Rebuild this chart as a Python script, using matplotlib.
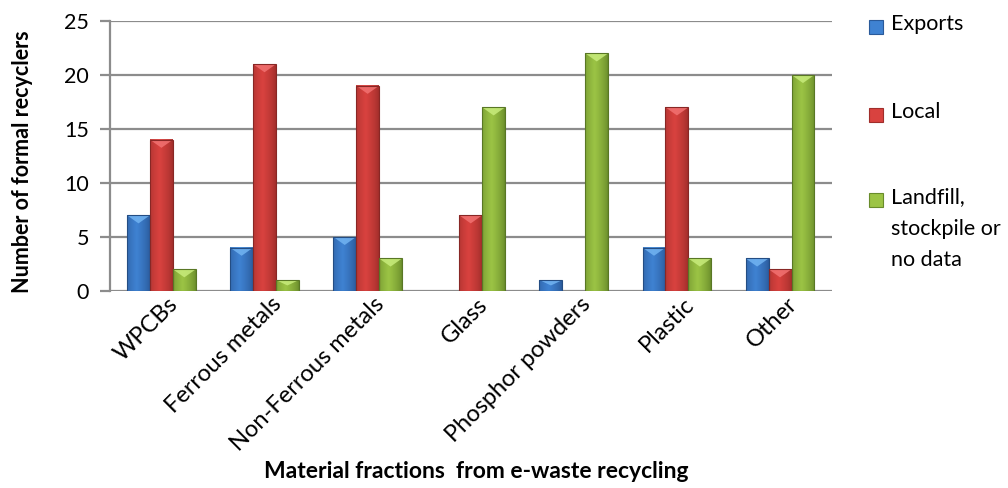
import numpy as np
import matplotlib
matplotlib.use('Agg')
import matplotlib.pyplot as plt
from matplotlib.colors import to_rgb
from matplotlib.patches import Polygon, Rectangle
from matplotlib.transforms import ScaledTranslation

plt.rcParams['font.family'] = ['Lato', 'DejaVu Sans']

categories = ['WPCBs', 'Ferrous metals', 'Non-Ferrous metals', 'Glass',
              'Phosphor powders', 'Plastic', 'Other']
exports = [7, 4, 5, 0, 1, 4, 3]
local = [14, 21, 19, 7, 0, 17, 2]
landfill = [2, 1, 3, 17, 22, 3, 20]
series_names = ['Exports', 'Local', 'Landfill,\nstockpile or\nno data']

# (edge, centre, top bevel) shades for each series
shades = [
    ('#2a5a9a', '#3f82d2', '#72b4f2'),
    ('#a02e2b', '#d9423f', '#f27272'),
    ('#698c2b', '#9cc445', '#c8ec7c'),
]


def shaded_bar(ax, patch, cols):
    x0, y0 = patch.get_x(), patch.get_y()
    w, h = patch.get_width(), patch.get_height()
    if h <= 0:
        return
    edge, mid, top = (np.array(to_rgb(c)) for c in cols)
    t = np.linspace(0, 1, 64)
    # brighter a bit left of centre, darker towards both sides
    k = np.clip(1 - np.abs(t - 0.42) / 0.58, 0, 1) ** 0.7
    grad = edge[None, :] * (1 - k[:, None]) + mid[None, :] * k[:, None]
    ax.imshow(grad[None, :, :], extent=(x0, x0 + w, y0, y0 + h),
              aspect='auto', zorder=3, interpolation='bilinear')
    d = min(0.75, h * 0.5)
    ax.add_patch(Polygon([(x0, y0 + h), (x0 + w, y0 + h), (x0 + w * 0.5, y0 + h - d)],
                         closed=True, fc=top, ec='none', zorder=4, alpha=0.85))
    ax.add_patch(Rectangle((x0, y0), w, h, fc='none', ec=edge * 0.85, lw=0.8, zorder=5))


fig = plt.figure(figsize=(10.08, 4.88), dpi=100)
ax = fig.add_axes([0.109, 0.404, 0.716, 0.553])

x = np.arange(len(categories))
w = 1 / 4.5
for i, (vals, cols) in enumerate(zip([exports, local, landfill], shades)):
    bars = ax.bar(x + (i - 1) * w, vals, w, color=cols[1], zorder=2)
    for p in bars:
        shaded_bar(ax, p, cols)

ax.set_xlim(-0.5, len(categories) - 0.5)
ax.set_ylim(0, 25)
ax.set_yticks(range(0, 26, 5))
ax.yaxis.grid(True, color='#8c8c8c', lw=1.6, zorder=0)
ax.set_axisbelow(True)
for s in ['top', 'right', 'bottom']:
    ax.spines[s].set_visible(False)
ax.spines['left'].set_color('#8c8c8c')
ax.spines['left'].set_linewidth(1.6)
ax.tick_params(axis='y', length=7, width=1.6, color='#8c8c8c', labelsize=15.5, pad=8)
ax.tick_params(axis='x', length=0, pad=2)
ax.set_xticks(x)
ax.set_xticklabels(categories, rotation=45, ha='right', rotation_mode='anchor', fontsize=17)
shift = ScaledTranslation(6 / 100, 0, fig.dpi_scale_trans)
for lab in ax.get_xticklabels():
    lab.set_transform(lab.get_transform() + shift)
ax.set_ylabel('Number of formal recyclers', fontsize=15.5, fontweight='bold')
ax.yaxis.set_label_coords(-0.106, 0.48)
fig.text(0.472, 0.02, 'Material fractions  from e-waste recycling', ha='center',
         fontsize=16.5, fontweight='bold')

# legend on the right
legend_y = [0.945, 0.765, 0.59]
for name, cols, yy in zip(series_names, shades, legend_y):
    fig.patches.append(Rectangle((0.862, yy - 0.014), 0.014, 0.028, transform=fig.transFigure,
                                 fc=cols[1], ec=cols[0], lw=0.8))
    fig.text(0.884, yy + 0.026, name, ha='left', va='top', fontsize=15.5, linespacing=1.7)

fig.savefig('out.png', dpi=100)
